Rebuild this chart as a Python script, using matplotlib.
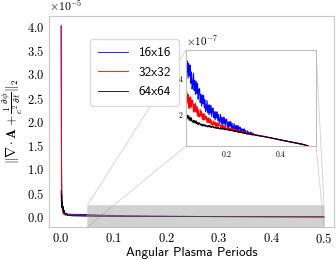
import matplotlib
matplotlib.use("Agg")
import matplotlib.pyplot as plt
import numpy as np
from matplotlib.patches import ConnectionPatch

plt.rcParams["font.family"] = "cmr10"
plt.rcParams["mathtext.fontset"] = "cm"
plt.rcParams["axes.formatter.use_mathtext"] = True
plt.rcParams["axes.unicode_minus"] = False

labels = ["16x16", "32x32", "64x64"]
colors = ["blue", "red", "black"]

# early spike, t in angular plasma periods, values in 1e-5
t_early = [0.0, 0.0005, 0.001, 0.0015, 0.002, 0.003, 0.004, 0.005, 0.006,
           0.008, 0.01, 0.012, 0.015, 0.02, 0.025, 0.03, 0.035, 0.04, 0.045]
blue_early = [4.02, 1.7, 0.75, 0.38, 0.24, 0.14, 0.1, 0.085, 0.075, 0.068,
              0.064, 0.061, 0.059, 0.057, 0.056, 0.055, 0.054, 0.053, 0.053]
red_early = [4.02, 1.5, 0.6, 0.3, 0.18, 0.1, 0.07, 0.055, 0.048, 0.042,
             0.04, 0.038, 0.036, 0.034, 0.032, 0.031, 0.03, 0.029, 0.028]
black_early = [0.55, 0.3, 0.45, 0.2, 0.32, 0.15, 0.22, 0.09, 0.14, 0.05,
               0.08, 0.03, 0.045, 0.025, 0.024, 0.022, 0.021, 0.021, 0.02]

# inset part, values in 1e-7
# t = 0.05 .. 0.2975 every 0.0025, then 0.30 .. 0.50 every 0.01
t_noisy = np.arange(100) * 0.0025 + 0.05
t_tail = np.arange(21) * 0.01 + 0.30
t_late = np.concatenate([t_noisy, t_tail])

blue_late = [5.4, 4.31, 4.92, 3.98, 4.81, 4.09, 4.7, 3.7, 4.32, 3.39,
             3.63, 4.26, 3.31, 3.86, 3.09, 3.81, 3.13, 3.68, 2.82, 3.36,
             3.4, 2.63, 3.09, 2.44, 3.06, 2.57, 3.03, 2.34, 2.8, 2.15,
             2.25, 2.74, 2.07, 2.5, 1.96, 2.51, 2.04, 2.47, 1.87, 2.29,
             2.33, 1.8, 2.13, 1.68, 2.13, 1.79, 2.12, 1.64, 1.98, 1.53,
             1.6, 1.98, 1.48, 1.81, 1.4, 1.83, 1.47, 1.8, 1.35, 1.68,
             1.72, 1.3, 1.57, 1.23, 1.58, 1.32, 1.59, 1.23, 1.49, 1.14,
             1.21, 1.48, 1.13, 1.36, 1.07, 1.38, 1.13, 1.36, 1.05, 1.28,
             1.28, 1.04, 1.19, 0.98, 1.18, 1.03, 1.18, 0.96, 1.11, 0.9,
             0.95, 1.07, 0.91, 1.0, 0.87, 1.0, 0.89, 0.99, 0.84, 0.94,
             0.88, 0.84, 0.82, 0.78, 0.77, 0.72, 0.71, 0.66, 0.65, 0.6,
             0.58, 0.54, 0.52, 0.48, 0.46, 0.42, 0.4, 0.36, 0.34, 0.29, 0.26]
red_late = [2.62, 3.26, 2.61, 3.09, 2.32, 2.92, 2.31, 2.95, 2.38, 2.78,
            2.69, 2.11, 2.55, 2.12, 2.59, 2.1, 2.42, 1.9, 2.28, 1.85,
            1.9, 2.24, 1.87, 2.13, 1.7, 2.02, 1.67, 2.02, 1.7, 1.9,
            1.86, 1.53, 1.78, 1.53, 1.8, 1.52, 1.71, 1.42, 1.63, 1.38,
            1.41, 1.62, 1.4, 1.56, 1.31, 1.51, 1.31, 1.52, 1.33, 1.46,
            1.45, 1.24, 1.4, 1.24, 1.41, 1.23, 1.36, 1.16, 1.31, 1.14,
            1.16, 1.3, 1.15, 1.26, 1.09, 1.22, 1.09, 1.23, 1.1, 1.19,
            1.18, 1.04, 1.14, 1.04, 1.15, 1.04, 1.12, 1.0, 1.09, 0.98,
            0.995, 1.07, 0.985, 1.045, 0.947, 1.02, 0.94, 1.02, 0.947, 0.995,
            0.98, 0.9, 0.95, 0.9, 0.96, 0.89, 0.93, 0.86, 0.91, 0.85,
            0.87, 0.83, 0.81, 0.77, 0.76, 0.72, 0.7, 0.66, 0.64, 0.6,
            0.58, 0.54, 0.51, 0.48, 0.45, 0.42, 0.39, 0.36, 0.33, 0.29, 0.25]
black_late = [2.08, 1.84, 1.93, 1.73, 1.91, 1.66, 1.82, 1.63, 1.79, 1.58,
              1.56, 1.65, 1.51, 1.64, 1.51, 1.62, 1.46, 1.54, 1.41, 1.52,
              1.51, 1.4, 1.45, 1.37, 1.45, 1.34, 1.42, 1.34, 1.42, 1.33,
              1.31, 1.37, 1.29, 1.37, 1.3, 1.37, 1.27, 1.33, 1.25, 1.32,
              1.32, 1.25, 1.28, 1.22, 1.28, 1.21, 1.26, 1.2, 1.26, 1.2,
              1.18, 1.23, 1.16, 1.22, 1.17, 1.22, 1.15, 1.19, 1.13, 1.18,
              1.18, 1.13, 1.15, 1.1, 1.14, 1.09, 1.12, 1.08, 1.12, 1.07,
              1.06, 1.09, 1.03, 1.08, 1.03, 1.07, 1.01, 1.04, 0.99, 1.03,
              1.03, 0.98, 1.0, 0.96, 0.99, 0.94, 0.97, 0.93, 0.96, 0.93,
              0.91, 0.94, 0.9, 0.93, 0.89, 0.92, 0.87, 0.89, 0.86, 0.88,
              0.86, 0.83, 0.8, 0.78, 0.75, 0.72, 0.69, 0.66, 0.63, 0.6,
              0.57, 0.54, 0.51, 0.48, 0.45, 0.42, 0.39, 0.36, 0.33, 0.29, 0.25]

early = [blue_early, red_early, black_early]
late = [blue_late, red_late, black_late]

# zoomed window shown in the inset: (x0, x1, y0, y1)
zoom_box = (0.05, 0.5, -0.21e-5, 0.25e-5)

fig = plt.figure(figsize=(3.36, 2.6), dpi=100)
ax = fig.add_axes([0.146, 0.127, 0.848, 0.812])
ax.patch.set_alpha(0)

t_all = np.concatenate([t_early, t_late])
for lab, col, e, l in zip(labels, colors, early, late):
    y = np.concatenate([np.array(e) * 1e-5, np.array(l) * 1e-7])
    ax.plot(t_all, y, color=col, lw=0.7, label=lab)

ax.set_xlim(-0.023, 0.519)
ax.set_ylim(-0.21e-5, 4.23e-5)
ax.set_xticks([0.0, 0.1, 0.2, 0.3, 0.4, 0.5])
ax.set_yticks([0, 0.5e-5, 1e-5, 1.5e-5, 2e-5, 2.5e-5, 3e-5, 3.5e-5, 4e-5])
ax.tick_params(length=0, labelsize=9, pad=3.5)
ax.yaxis.get_offset_text().set_fontsize(8.5)
for s in ax.spines.values():
    s.set_color("0.78")
    s.set_linewidth(0.8)

ax.set_xlabel("Angular Plasma Periods", fontfamily="cmss10", fontsize=9.5, labelpad=1)
ax.set_ylabel(r"$\|\nabla\cdot\mathbf{A}+\frac{1}{c^2}\frac{\partial\phi}{\partial t}\|_2$",
              fontsize=9.5, labelpad=1)

leg = ax.legend(loc="upper left", bbox_to_anchor=(0.12, 0.92), frameon=True,
                prop={"family": "cmss10", "size": 9.5}, handlelength=2.3,
                labelspacing=0.55, borderpad=0.6, edgecolor="0.85", framealpha=0.9)
leg.set_zorder(10)
for h, col in zip(leg.get_lines(), colors):
    h.set_color(col)
    h.set_linewidth(0.6)

# inset
axins = fig.add_axes([0.5536, 0.4385, 0.387, 0.369])
for col, l in zip(colors, late):
    axins.plot(t_late, np.array(l) * 1e-7, color=col, lw=0.8)
axins.set_xlim(0.05, 0.53)
axins.set_ylim(0.24e-7, 5.53e-7)
axins.set_xticks([0.2, 0.4])
axins.set_yticks([2e-7, 4e-7])
axins.tick_params(length=0, labelsize=5.5, pad=2)
axins.yaxis.get_offset_text().set_fontsize(8)
for s in axins.spines.values():
    s.set_color("0.75")
    s.set_linewidth(0.8)

x0, x1, y0, y1 = zoom_box
ax.indicate_inset([x0, y0, x1 - x0, y1 - y0], facecolor="0.6", edgecolor="0.8",
                  alpha=0.45, linewidth=0.6)
for xa, ya, xb, yb in [(x0, y1, 0, 1), (x0, y0, 0, 0), (x1, y1, 1, 1), (x1, y0, 1, 0)]:
    con = ConnectionPatch(xyA=(xa, ya), coordsA=ax.transData,
                          xyB=(xb, yb), coordsB=axins.transAxes,
                          color="0.82", lw=0.6, zorder=-1)
    fig.add_artist(con)

fig.savefig("out.png", dpi=100)
